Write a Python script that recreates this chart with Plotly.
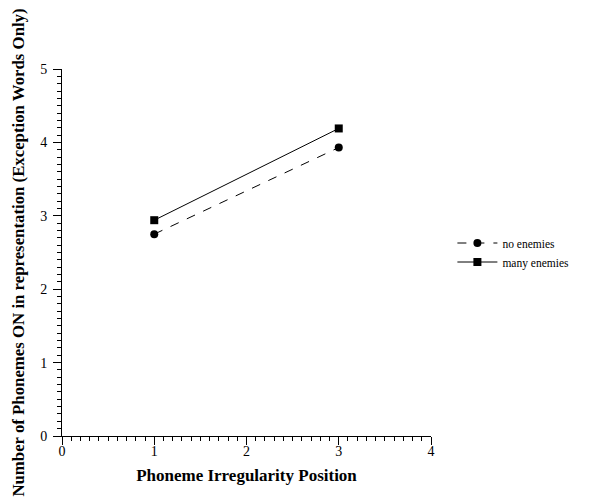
import plotly.graph_objects as go

positions = [1, 3]
no_enemies = [2.75, 3.93]
many_enemies = [2.94, 4.19]
series_names = ["no enemies", "many enemies"]
x_title = "Phoneme Irregularity Position"
y_title = "Number of Phonemes ON in representation (Exception Words Only)"

FONT = "Liberation Serif, Times New Roman, serif"

fig = go.Figure()
fig.add_trace(go.Scatter(
    x=positions, y=no_enemies, name=series_names[0], mode="lines+markers",
    line=dict(color="black", width=1, dash="dash"),
    marker=dict(symbol="circle", size=8, color="black"),
))
fig.add_trace(go.Scatter(
    x=positions, y=many_enemies, name=series_names[1], mode="lines+markers",
    line=dict(color="black", width=1),
    marker=dict(symbol="square", size=8, color="black"),
))

axis_common = dict(
    showline=True, linecolor="black", linewidth=1, showgrid=False, zeroline=False,
    ticks="outside", ticklen=8, tickwidth=1, tickcolor="black",
    tickfont=dict(family=FONT, size=14, color="black"),
    minor=dict(ticks="outside", ticklen=4, tickwidth=1, tickcolor="black", dtick=0.1, showgrid=False),
    automargin=False,
)

fig.update_layout(
    width=602, height=503,
    margin=dict(l=62, r=171, t=69, b=67, autoexpand=False),
    paper_bgcolor="white", plot_bgcolor="white",
    font=dict(family=FONT, size=13, color="black"),
    xaxis=dict(range=[0, 4], dtick=1, tick0=0, ticklabelstandoff=-6,
               title=dict(text="<b>" + x_title + "</b>", font=dict(family=FONT, size=17), standoff=11),
               **axis_common),
    yaxis=dict(range=[0, 5], dtick=1, tick0=0, ticklabelstandoff=3,
               title=dict(text="<b>" + y_title + "</b>", font=dict(family=FONT, size=16.8), standoff=11),
               **axis_common),
    legend=dict(x=1.058, y=0.5, xanchor="left", yanchor="middle",
                font=dict(family=FONT, size=11.5, color="black"),
                bgcolor="rgba(0,0,0,0)", tracegroupgap=0, itemwidth=40),
    showlegend=True,
)

fig.write_html("out.html", config={"displayModeBar": False},
               post_script="document.body.style.margin='0';document.body.style.padding='0';")
